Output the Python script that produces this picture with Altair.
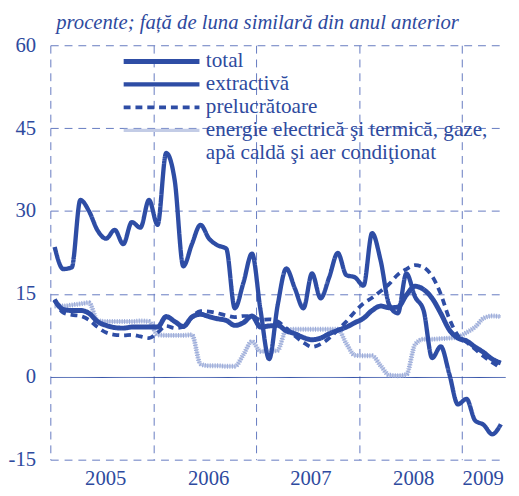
import altair as alt
import pandas as pd

# month index (0 = Jan 2005 ... 52 = May 2009)
months = list(range(53))

total = [13.9, 12.2, 12.0, 12.0, 11.5, 10.0, 9.3, 8.9, 8.8, 9.0, 9.0, 9.0,
         9.0, 10.9, 10.0, 9.1, 10.8, 11.3, 10.9, 10.5, 10.2, 9.3, 9.8, 11.0,
         9.0, 9.2, 9.3, 8.3, 7.8, 7.1, 6.7, 7.0, 7.8, 8.4, 9.0, 9.8,
         10.6, 12.0, 12.8, 12.5, 12.6, 14.8, 16.4, 15.8, 14.2, 11.5, 8.5, 7.0,
         6.5, 5.4, 4.4, 3.2, 2.5]

extractiva = [23.5, 19.5, 19.8, 32.0, 30.0, 26.5, 25.0, 26.6, 24.0, 28.0, 27.0, 32.0,
              27.5, 40.5, 35.5, 20.0, 24.0, 27.5, 25.0, 23.8, 23.2, 12.4, 17.0, 22.3,
              12.0, 3.2, 13.0, 19.6, 16.0, 12.4, 18.7, 14.2, 18.0, 22.4, 18.4, 18.0,
              16.5, 26.0, 21.0, 13.0, 11.5, 18.7, 14.5, 12.0, 3.4, 5.5, 0.5, -5.0,
              -4.0, -7.9, -8.7, -10.4, -8.6]

prelucratoare = [14.0, 11.6, 11.2, 11.0, 10.3, 9.0, 8.0, 7.6, 7.5, 7.6, 7.3, 7.0,
                 8.0, 9.2, 8.8, 9.0, 10.8, 11.9, 11.8, 11.5, 11.1, 10.8, 11.0, 11.0,
                 10.3, 10.4, 10.0, 8.8, 7.4, 6.2, 5.4, 5.9, 7.0, 8.5, 10.0, 11.8,
                 13.3, 14.3, 15.5, 16.8, 18.5, 19.5, 20.2, 19.8, 18.2, 15.0, 10.5, 7.5,
                 6.3, 5.0, 3.7, 2.6, 1.6]

energie = [12.8, 12.8, 13.0, 13.2, 13.4, 10.2, 10.0, 10.0, 10.0, 10.0, 10.1, 10.0,
           7.6, 7.5, 7.5, 7.5, 7.6, 2.3, 2.0, 2.0, 1.9, 1.9, 4.0, 6.4,
           4.6, 4.6, 4.8, 8.5, 8.6, 8.6, 8.6, 8.6, 8.6, 8.6, 6.0, 3.9,
           3.8, 3.8, 2.0, 0.3, 0.2, 0.4, 5.8, 6.8, 6.8, 6.9, 7.0, 7.2,
           8.0, 9.0, 10.6, 11.0, 10.9]

series_names = ["total", "extractivă", "prelucrătoare",
                "energie electrică şi termică, gaze,",
                "apă caldă şi aer condiţionat"]

year_bounds = [0, 12, 24, 36, 48]
year_label_pos = [6.4, 18.4, 30.3, 42.3, 50.4]
y_ticks = [-15, 0, 15, 30, 45, 60]

rows = []
for name, vals in zip(series_names[:4], [total, extractiva, prelucratoare, energie]):
    for m, v in zip(months, vals):
        rows.append({"luna": m + 0.5, "serie": name, "valoare": v})
df = pd.DataFrame(rows)

BLUE = "#2E4DA5"
TEXT = "#2E4A9E"
GRID = "#6479C0"
LIGHT = "#C3CCE6"
FONT = "Liberation Serif"

color_scale = alt.Scale(domain=series_names, range=[BLUE, BLUE, BLUE, LIGHT, "rgba(0,0,0,0)"])
dash_scale = alt.Scale(domain=series_names, range=[[1, 0], [1, 0], [7, 5], [1, 0], [1, 0]])
width_scale = alt.Scale(domain=series_names, range=[5, 2.6, 3, 7, 0])

legend = alt.Legend(title=None, orient="none", legendX=72, legendY=5,
                    symbolType="stroke", symbolSize=5929, clipHeight=23,
                    rowPadding=0.3, padding=0, labelFont=FONT, labelFontSize=21.5,
                    labelColor=TEXT, labelOffset=4, labelLimit=400)

x_enc = alt.X("luna:Q",
              scale=alt.Scale(domain=[0, 53], nice=False, zero=False),
              axis=alt.Axis(values=year_bounds + year_label_pos, title=None,
                            ticks=False, domain=False,
                            labelExpr="abs(datum.value % 12) < 0.01 ? '' : toString(2005 + floor(datum.value / 12))",
                            gridOpacity={"condition": {"test": "datum.value % 12 == 0", "value": 1}, "value": 0},
                            gridDash=[8, 6], gridColor=GRID, gridWidth=1,
                            labelFont=FONT, labelFontSize=21, labelColor=TEXT,
                            labelPadding=8, labelFlush=False, labelOverlap=False))

y_enc = alt.Y("valoare:Q",
              scale=alt.Scale(domain=[-15, 60], nice=False, zero=False),
              axis=alt.Axis(values=y_ticks, title=None, ticks=False, domain=False,
                            labelExpr="toString(datum.value)",
                            gridDash={"condition": {"test": "datum.value === 0", "value": [1, 0]}, "value": [8, 6]},
                            gridColor={"condition": {"test": "datum.value === 0", "value": BLUE}, "value": GRID},
                            gridWidth=1, labelFont=FONT, labelFontSize=21, labelColor=TEXT,
                            labelPadding=15))

enc = dict(
    x=x_enc, y=y_enc,
    color=alt.Color("serie:N", scale=color_scale, legend=legend),
    strokeDash=alt.StrokeDash("serie:N", scale=dash_scale, legend=legend),
    strokeWidth=alt.StrokeWidth("serie:N", scale=width_scale, legend=legend),
)

base = alt.Chart(df)

def series_layer(name):
    return base.transform_filter(alt.datum.serie == name).mark_line(
        interpolate="monotone").encode(**enc)

energy_dots = base.transform_filter(alt.datum.serie == series_names[3]).mark_line(
    interpolate="monotone", color="#9AABDA", strokeWidth=5, strokeDash=[1, 1.5]
).encode(x=x_enc, y=y_enc)

chart = alt.layer(
    series_layer(series_names[3]),
    energy_dots,
    series_layer(series_names[1]),
    series_layer(series_names[2]),
    series_layer(series_names[0]),
).properties(
    width=462, height=421,
    padding={"left": 0, "top": 0, "right": 0, "bottom": 0},
    title=alt.TitleParams("procente; față de luna similară din anul anterior",
                          font=FONT, fontSize=21, fontStyle="italic", fontWeight="normal",
                          color=TEXT, anchor="start", frame="group", offset=2, dx=6),
).configure_view(stroke=None).configure_axis(labelFont=FONT).configure_legend(labelFont=FONT)

chart.save("out.html", embed_options={"renderer": "svg", "actions": False})
